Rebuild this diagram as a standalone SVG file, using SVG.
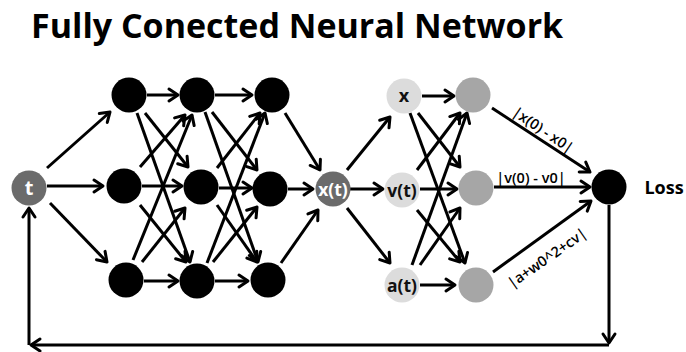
<svg xmlns="http://www.w3.org/2000/svg" width="686" height="352" viewBox="0 0 686 352">
  <style>
    .title { font-family: "Open Sans", "Liberation Sans", sans-serif; font-weight: 700; font-size: 34px; fill: #000; }
    .lbl { font-family: "Open Sans", "Liberation Sans", sans-serif; font-weight: 700; text-anchor: middle; }
    .elbl { font-family: "Open Sans", "Liberation Sans", sans-serif; font-weight: 600; font-size: 14.5px; text-anchor: middle; fill: #000; }
    .edge { stroke: #000; stroke-width: 3; fill: none; marker-end: url(#ah); }
    .hid { fill: #000; }
    .dark { fill: #6b6b6b; }
    .light { fill: #dcdcdc; }
    .mid { fill: #a6a6a6; }
  </style>
  <defs>
    <marker id="ah" markerUnits="userSpaceOnUse" orient="auto" overflow="visible" markerWidth="1" markerHeight="1" refX="0" refY="0">
      <path d="M-9,-6 L0,0 L-9,6" fill="none" stroke="#000" stroke-width="3" stroke-linecap="round" stroke-linejoin="round"/>
    </marker>
  </defs>

  <rect width="686" height="352" fill="#fff"/>
  <text class="title" x="31" y="38">Fully Conected Neural Network</text>

  <!-- connectors -->
  <g id="connectors">
    <!-- input to first hidden layer -->
    <line class="edge" x1="47" y1="168" x2="110" y2="112"/>
    <line class="edge" x1="47" y1="186" x2="103" y2="186"/>
    <line class="edge" x1="50" y1="203" x2="107" y2="262"/>
    <!-- hidden 1 to hidden 2 -->
    <line class="edge" x1="147" y1="95" x2="178" y2="95"/>
    <line class="edge" x1="145" y1="113" x2="188" y2="167"/>
    <line class="edge" x1="137" y1="113" x2="190" y2="262"/>
    <line class="edge" x1="140" y1="167" x2="185" y2="115"/>
    <line class="edge" x1="142" y1="186" x2="182" y2="186"/>
    <line class="edge" x1="140" y1="205" x2="186" y2="262"/>
    <line class="edge" x1="133" y1="260" x2="192" y2="115"/>
    <line class="edge" x1="142" y1="262" x2="185" y2="208"/>
    <line class="edge" x1="144" y1="281" x2="178" y2="281"/>
    <!-- hidden 2 to hidden 3 -->
    <line class="edge" x1="215" y1="95" x2="252" y2="95"/>
    <line class="edge" x1="212" y1="112" x2="257" y2="170"/>
    <line class="edge" x1="205" y1="112" x2="258" y2="262"/>
    <line class="edge" x1="217" y1="168" x2="260" y2="113"/>
    <line class="edge" x1="219" y1="188" x2="252" y2="188"/>
    <line class="edge" x1="217" y1="205" x2="257" y2="262"/>
    <line class="edge" x1="207" y1="263" x2="265" y2="113"/>
    <line class="edge" x1="213" y1="262" x2="257" y2="207"/>
    <line class="edge" x1="215" y1="281" x2="248" y2="281"/>
    <!-- hidden 3 to x(t) -->
    <line class="edge" x1="285" y1="113" x2="320" y2="170"/>
    <line class="edge" x1="288" y1="189" x2="313" y2="189"/>
    <line class="edge" x1="281" y1="263" x2="318" y2="210"/>
    <!-- x(t) to derivatives -->
    <line class="edge" x1="347" y1="170" x2="390" y2="117"/>
    <line class="edge" x1="350" y1="189" x2="383" y2="189"/>
    <line class="edge" x1="347" y1="208" x2="390" y2="263"/>
    <!-- derivatives to residual nodes -->
    <line class="edge" x1="422" y1="96" x2="454" y2="96"/>
    <line class="edge" x1="418" y1="113" x2="460" y2="167"/>
    <line class="edge" x1="410" y1="113" x2="465" y2="263"/>
    <line class="edge" x1="417" y1="170" x2="460" y2="113"/>
    <line class="edge" x1="420" y1="189" x2="457" y2="189"/>
    <line class="edge" x1="417" y1="210" x2="460" y2="262"/>
    <line class="edge" x1="412" y1="265" x2="467" y2="113"/>
    <line class="edge" x1="420" y1="265" x2="460" y2="208"/>
    <line class="edge" x1="420" y1="285" x2="455" y2="285"/>
    <!-- residuals to loss -->
    <line class="edge" x1="492" y1="108" x2="590" y2="172"/>
    <line class="edge" x1="494" y1="187" x2="590" y2="187"/>
    <line class="edge" x1="493" y1="272" x2="591" y2="201"/>
    <!-- feedback loop -->
    <line class="edge" x1="609" y1="205" x2="609" y2="343"/>
    <line class="edge" x1="609" y1="345" x2="31" y2="345"/>
    <line class="edge" x1="29" y1="345" x2="29" y2="208"/>
    <!-- loss term labels -->
    <text class="elbl" transform="translate(543,130) rotate(34)" y="5">|x(0) - x0|</text>
    <text class="elbl" x="531" y="183">|v(0) - v0|</text>
    <text class="elbl" transform="translate(547,258) rotate(-35)" y="5">|a+w0^2+cv|</text>
  </g>

  <!-- nodes -->
  <g id="t"><circle class="dark" cx="29" cy="188" r="17.5"/><text class="lbl" x="29" y="195" font-size="20" fill="#fff">t</text></g>

  <g id="h1a"><circle class="hid" cx="129" cy="95" r="17.5"/></g>
  <g id="h1b"><circle class="hid" cx="124" cy="186" r="17.5"/></g>
  <g id="h1c"><circle class="hid" cx="126" cy="280" r="17.5"/></g>

  <g id="h2a"><circle class="hid" cx="197" cy="95" r="17.5"/></g>
  <g id="h2b"><circle class="hid" cx="201" cy="187" r="17.5"/></g>
  <g id="h2c"><circle class="hid" cx="197" cy="281" r="17.5"/></g>

  <g id="h3a"><circle class="hid" cx="272" cy="95" r="17.5"/></g>
  <g id="h3b"><circle class="hid" cx="270" cy="189" r="17.5"/></g>
  <g id="h3c"><circle class="hid" cx="268" cy="280" r="17.5"/></g>

  <g id="xt"><circle class="dark" cx="333" cy="189" r="17.5"/><text class="lbl" x="333" y="195.5" font-size="17.5" fill="#fff">x(t)</text></g>

  <g id="x"><circle class="light" cx="404" cy="96" r="17.5"/><text class="lbl" x="404" y="102" font-size="18" fill="#111">x</text></g>
  <g id="vt"><circle class="light" cx="402" cy="190" r="17.5"/><text class="lbl" x="402" y="196.5" font-size="17.5" fill="#111">v(t)</text></g>
  <g id="at"><circle class="light" cx="402" cy="285" r="17.5"/><text class="lbl" x="402" y="291.5" font-size="17.5" fill="#111">a(t)</text></g>

  <g id="ra"><circle class="mid" cx="473" cy="95" r="17.5"/></g>
  <g id="rb"><circle class="mid" cx="476" cy="188" r="17.5"/></g>
  <g id="rc"><circle class="mid" cx="476" cy="285" r="17.5"/></g>

  <g id="loss"><circle class="hid" cx="609" cy="187" r="17.5"/><text class="lbl" x="664" y="194" font-size="18" fill="#000">Loss</text></g>
</svg>
